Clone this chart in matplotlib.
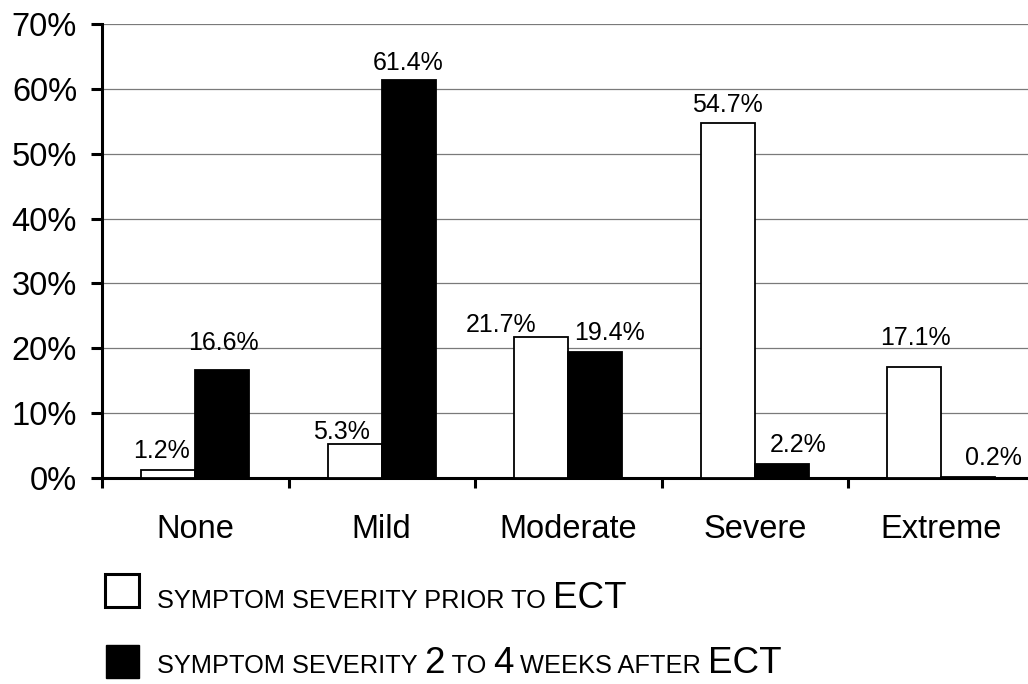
import matplotlib
matplotlib.use('Agg')
import matplotlib.pyplot as plt
from matplotlib.patches import Rectangle
import numpy as np

# ---- data ----
categories = ['None', 'Mild', 'Moderate', 'Severe', 'Extreme']
prior = [1.2, 5.3, 21.7, 54.7, 17.1]
after = [16.6, 61.4, 19.4, 2.2, 0.2]
yticks = [0, 10, 20, 30, 40, 50, 60, 70]
ytick_labels = ['0%', '10%', '20%', '30%', '40%', '50%', '60%', '70%']
legend_prior = [("SYMPTOM SEVERITY PRIOR TO ", 'small'), ("ECT", 'big')]
legend_after = [("SYMPTOM SEVERITY ", 'small'), ("2", 'big'), (" TO ", 'small'),
                ("4", 'big'), (" WEEKS AFTER ", 'small'), ("ECT", 'big')]

# ---- label placement tweaks (pixels: dx, gap above bar) ----
prior_off = [(-7, 12), (-13, 5), (-40, 5), (0, 11), (1, 22)]
after_off = [(1, 20), (-1, 10), (14, 12), (16, 12), (25, 12)]

plt.rcParams['font.family'] = ['Liberation Sans', 'DejaVu Sans']
W, H = 1028, 684
fig = plt.figure(figsize=(W / 100, H / 100), dpi=100)
px = 0.72  # points per pixel

cat_w = 186.5
ax = fig.add_axes([102 / W, 206 / H, 926 / W, 454 / H])
x = np.arange(len(categories))
bw = 0.29
ax.bar(x - bw / 2, prior, bw, color='white', edgecolor='black', linewidth=1.3, zorder=3)
ax.bar(x + bw / 2, after, bw, color='black', edgecolor='black', linewidth=1.3, zorder=3)

ax.set_xlim(-0.5, -0.5 + 926 / cat_w)
ax.set_ylim(0, 70)
ax.set_yticks(yticks)
ax.set_yticklabels(ytick_labels, fontsize=23.5)
ax.tick_params(axis='y', direction='out', length=8, width=2.2, pad=10)
ax.yaxis.grid(True, color='#7a7a7a', linewidth=0.9)
ax.set_axisbelow(True)

ax.set_xticks(np.arange(-0.5, 4.0, 1.0))
ax.set_xticklabels([])
ax.tick_params(axis='x', which='major', direction='out', length=7, width=2.2)
ax.set_xticks(x, minor=True)
ax.set_xticklabels(categories, minor=True, fontsize=23.5)
ax.tick_params(axis='x', which='minor', length=0, pad=26)

for s in ['top', 'right']:
    ax.spines[s].set_visible(False)
for s in ['left', 'bottom']:
    ax.spines[s].set_linewidth(2.2)

for i, v in enumerate(prior):
    dx, dy = prior_off[i]
    ax.annotate(f'{v:.1f}%', (x[i] - bw / 2, v), xytext=(dx * px, dy * px),
                textcoords='offset points', ha='center', va='baseline',
                fontsize=18, annotation_clip=False)
for i, v in enumerate(after):
    dx, dy = after_off[i]
    ax.annotate(f'{v:.1f}%', (x[i] + bw / 2, v), xytext=(dx * px, dy * px),
                textcoords='offset points', ha='center', va='baseline',
                fontsize=18, annotation_clip=False)

# ---- legend ----
sizes = {'small': 18.3, 'big': 26.5}
renderer = fig.canvas.get_renderer()


def draw_line(pieces, x0_px, base_px):
    xp = x0_px
    for txt, sz in pieces:
        t = fig.text(xp / W, 1 - base_px / H, txt, fontsize=sizes[sz],
                     ha='left', va='baseline')
        bb = t.get_window_extent(renderer)
        xp += bb.width


fig.patches.append(Rectangle((105 / W, 1 - 607 / H), 34 / W, 33 / H,
                             transform=fig.transFigure, facecolor='white',
                             edgecolor='black', linewidth=2.2))
fig.patches.append(Rectangle((106 / W, 1 - 678 / H), 33 / W, 33 / H,
                             transform=fig.transFigure, facecolor='black',
                             edgecolor='black', linewidth=1))
draw_line(legend_prior, 157, 608)
draw_line(legend_after, 157, 673)

fig.savefig('out.png', dpi=100)
